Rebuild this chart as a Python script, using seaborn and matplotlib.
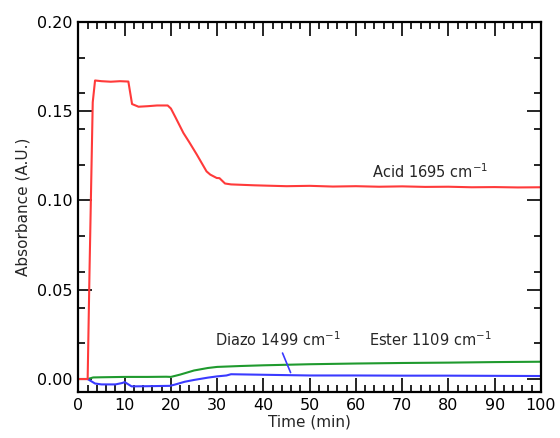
import matplotlib.pyplot as plt
import matplotlib.ticker as mticker
import seaborn as sns

# time axis (min) and absorbance for each band
acid_t = [0, 2, 2.4, 3.1, 3.6, 5, 7, 9, 10.8, 11.6, 13, 15, 17, 19.3, 20, 21,
          22.7, 24, 25.6, 27.7, 28.5, 29.9, 30.5, 31.7, 33, 35, 38, 40.7, 45,
          50, 55, 60, 65, 70, 75, 80, 85, 90, 95, 100]
acid_v = [0, 0, 0.06, 0.155, 0.1672, 0.1668, 0.1665, 0.1668, 0.1666, 0.154,
          0.1525, 0.1528, 0.1532, 0.1532, 0.1515, 0.1465, 0.1378, 0.1325,
          0.1257, 0.1163, 0.1145, 0.1126, 0.1125, 0.1095, 0.1090, 0.1088,
          0.1085, 0.1083, 0.1080, 0.1082, 0.1078, 0.1080, 0.1077, 0.1079,
          0.1076, 0.1077, 0.1074, 0.1075, 0.1073, 0.1074]

ester_t = [2, 3.2, 5, 10, 15, 19, 20, 22, 25, 28, 30, 35, 40, 50, 60, 70, 80,
           90, 100]
ester_v = [0, 0.0009, 0.0010, 0.0012, 0.0012, 0.0013, 0.0012, 0.0025, 0.0048,
           0.0062, 0.0068, 0.0073, 0.0077, 0.0083, 0.0087, 0.0090, 0.0092,
           0.0095, 0.0097]

diazo_t = [2, 3.6, 5, 8, 9.5, 10, 10.5, 11.5, 15, 19.8, 21, 23, 25, 28, 30,
           32, 33, 40, 50, 60, 70, 80, 90, 100]
diazo_v = [0, -0.0025, -0.0030, -0.0030, -0.0022, -0.0017, -0.0025, -0.0041,
           -0.0040, -0.0038, -0.0030, -0.0015, -0.0005, 0.0008, 0.0015, 0.0020,
           0.0027, 0.0024, 0.0020, 0.0020, 0.0019, 0.0019, 0.0018, 0.0017]

base_t = [0, 2]
base_v = [0, 0]

sns.set_style("ticks")
plt.rcParams["font.family"] = ["DejaVu Sans"]

fig = plt.figure(figsize=(5.6, 4.38), dpi=100)
ax = fig.add_axes([0.140, 0.104, 0.826, 0.846])

sns.lineplot(x=base_t, y=base_v, color="black", linewidth=1.5, ax=ax)
sns.lineplot(x=ester_t, y=ester_v, color="#1f9a2e", linewidth=1.5, ax=ax)
sns.lineplot(x=diazo_t, y=diazo_v, color="#3a3aff", linewidth=1.5, ax=ax)
sns.lineplot(x=acid_t, y=acid_v, color="#ff3a3a", linewidth=1.5, ax=ax)

ax.set_xlim(0, 100)
ax.set_ylim(-0.0075, 0.20)
ax.xaxis.set_major_locator(mticker.MultipleLocator(10))
ax.xaxis.set_minor_locator(mticker.MultipleLocator(2))
ax.yaxis.set_major_locator(mticker.MultipleLocator(0.05))
ax.yaxis.set_minor_locator(mticker.MultipleLocator(0.02))
ax.yaxis.set_major_formatter(mticker.FormatStrFormatter("%.2f"))

ax.tick_params(which="both", direction="in", top=True, right=True,
               width=1.2, labelsize=11.5, colors="black", pad=4)
ax.tick_params(which="major", length=10)
ax.tick_params(which="minor", length=5)
for s in ax.spines.values():
    s.set_linewidth(1.6)
    s.set_color("black")

ax.set_xlabel("Time (min)", fontsize=11, labelpad=1)
ax.set_ylabel("Absorbance (A.U.)", fontsize=11, labelpad=5)

ax.text(63.4, 0.1126, "Acid 1695 cm$^{-1}$", fontsize=10.5, va="baseline")
ax.text(62.8, 0.0183, "Ester 1109 cm$^{-1}$", fontsize=10.5, va="baseline")
ax.text(29.5, 0.0183, "Diazo 1499 cm$^{-1}$", fontsize=10.5, va="baseline")
ax.annotate("", xy=(46.1, 0.0022), xytext=(43.9, 0.016),
            arrowprops=dict(arrowstyle="-", color="#3a3aff", lw=1.2))

fig.savefig("out.png", dpi=100)
